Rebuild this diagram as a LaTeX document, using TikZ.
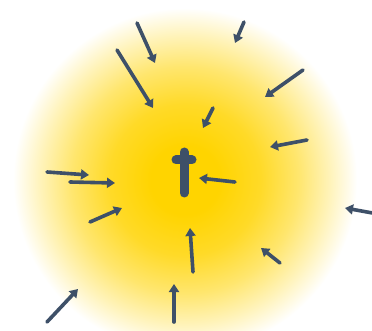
\documentclass[tikz,border=0pt]{standalone}
\usetikzlibrary{arrows.meta}
\definecolor{glowA}{RGB}{255,212,0}
\definecolor{glowB}{RGB}{255,218,40}
\definecolor{glowC}{RGB}{255,230,110}
\definecolor{glowD}{RGB}{255,243,185}
\definecolor{arrowcol}{RGB}{62,80,104}
\pgfdeclareradialshading{glow}{\pgfpoint{0bp}{0bp}}{%
  color(0bp)=(glowA); color(5bp)=(glowA); color(11bp)=(glowB);
  color(16.5bp)=(glowC); color(21bp)=(glowD); color(25bp)=(white);
  color(50bp)=(white)}
\tikzset{
  inarrow/.style={draw=arrowcol, line width=3.6pt, line cap=round,
    -{Triangle[length=8pt,width=10pt]}},
  crossbar/.style={draw=arrowcol, line width=9pt, line cap=round}
}
\begin{document}
\begin{tikzpicture}[x=1pt,y=-1pt]
\useasboundingbox (0,0) rectangle (372,331);
\clip (0,0) rectangle (372,331);
\fill[white] (0,0) rectangle (372,331);
\shade[shading=glow] (185,180) circle (172);
% cross
\draw[crossbar] (184,152) -- (184,193);
\draw[crossbar] (176,160) -- (192,160);
% arrows
\draw[inarrow] (137,23) -- (155,63);
\draw[inarrow] (117,50) -- (153,108);
\draw[inarrow] (244,22) -- (235,43);
\draw[inarrow] (303,70) -- (265,97);
\draw[inarrow] (213,108) -- (203,128);
\draw[inarrow] (307,140) -- (270,147);
\draw[inarrow] (235,182) -- (199,178);
\draw[inarrow] (47,172) -- (89,175);
\draw[inarrow] (70,182) -- (115,183);
\draw[inarrow] (90,222) -- (122,208);
\draw[inarrow] (193,272) -- (190,228);
\draw[inarrow] (378,214) -- (345,208);
\draw[inarrow] (280,263) -- (261,248);
\draw[inarrow] (47,322) -- (78,289);
\draw[inarrow] (174,322) -- (174,284);
\end{tikzpicture}
\end{document}
